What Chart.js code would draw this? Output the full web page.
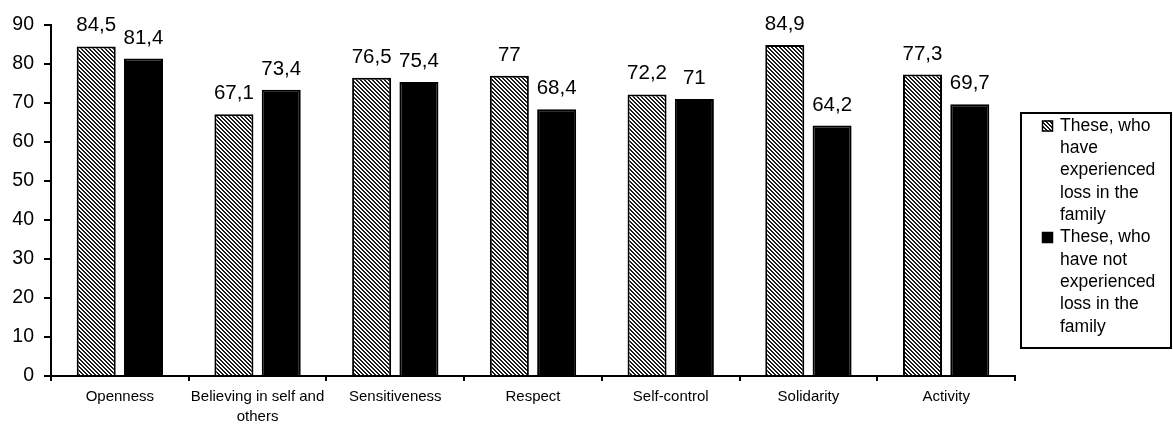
<!DOCTYPE html>
<html>
<head>
<meta charset="utf-8">
<script src="https://cdn.jsdelivr.net/npm/chart.js@4.4.1/dist/chart.umd.min.js"></script>
<style>
  html, body { margin: 0; padding: 0; background: #fff; }
  #wrap { width: 1173px; height: 424px; }
</style>
</head>
<body>
<div id="wrap"><canvas id="c" width="1173" height="424"></canvas></div>
<script>
// Categories (multi-line labels are given as arrays of lines)
const categories = [
  "Openness",
  ["Believing in self and", "others"],
  "Sensitiveness",
  "Respect",
  "Self-control",
  "Solidarity",
  "Activity"
];
const experiencedLoss    = [84.5, 67.1, 76.5, 77, 72.2, 84.9, 77.3];
const notExperiencedLoss = [81.4, 73.4, 75.4, 68.4, 71, 64.2, 69.7];
const seriesNames = [
  "These, who have experienced loss in the family",
  "These, who have not experienced loss in the family"
];
const yMin = 0, yMax = 90, yStep = 10;

const FONT = '"Liberation Sans", Arial, sans-serif';
Chart.defaults.font.family = FONT;
Chart.defaults.color = '#000';

const canvas = document.getElementById('c');
const ctx = canvas.getContext('2d');

// Diagonal "\\\" hatch fill
function makeHatch() {
  const t = document.createElement('canvas');
  t.width = 4; t.height = 4;
  const g = t.getContext('2d');
  g.fillStyle = '#fff';
  g.fillRect(0, 0, 4, 4);
  g.fillStyle = '#1a1a1a';
  for (let y = 0; y < 4; y++) {
    g.fillRect(y % 4, y, 1, 1);
    g.fillRect((y + 1) % 4, y, 1, 1);
  }
  return ctx.createPattern(t, 'repeat');
}
const hatch = makeHatch();

// Value labels above each bar, decimal comma
const valueLabels = {
  id: 'valueLabels',
  afterDatasetsDraw(chart) {
    const c = chart.ctx;
    c.save();
    c.font = '20.5px ' + FONT;
    c.fillStyle = '#000';
    c.textAlign = 'center';
    c.textBaseline = 'alphabetic';
    chart.data.datasets.forEach((ds, i) => {
      chart.getDatasetMeta(i).data.forEach((bar, j) => {
        c.fillText(String(ds.data[j]).replace('.', ','), bar.x, bar.y - 15);
      });
    });
    c.restore();
  }
};

// Boxed legend on the right with word-wrapped entries
const boxLegend = {
  id: 'boxLegend',
  afterDraw(chart) {
    const c = chart.ctx;
    const left = 1021, top = 113, width = 150, height = 235;
    const textX = 1060, maxW = 110, lineH = 22.3;
    c.save();
    c.lineWidth = 2;
    c.strokeStyle = '#000';
    c.strokeRect(left, top, width, height);
    c.font = '17.5px ' + FONT;
    c.fillStyle = '#000';
    c.textAlign = 'left';
    c.textBaseline = 'middle';
    let y = 126;
    chart.data.datasets.forEach((ds) => {
      // symbol
      c.fillStyle = ds.backgroundColor;
      c.fillRect(1042, y - 5.5, 11, 11);
      c.lineWidth = 1.5;
      c.strokeStyle = '#000';
      c.strokeRect(1042.5, y - 5, 10, 10);
      c.fillStyle = '#000';
      // wrapped text
      const words = ds.label.split(' ');
      let line = '';
      const lines = [];
      words.forEach(w => {
        const test = line ? line + ' ' + w : w;
        if (line && c.measureText(test).width > maxW) { lines.push(line); line = w; }
        else line = test;
      });
      if (line) lines.push(line);
      lines.forEach(l => { c.fillText(l, textX, y); y += lineH; });
    });
    c.restore();
  }
};

new Chart(ctx, {
  type: 'bar',
  data: {
    labels: categories,
    datasets: [
      {
        label: seriesNames[0],
        data: experiencedLoss,
        backgroundColor: hatch,
        borderColor: '#000',
        borderWidth: 2
      },
      {
        label: seriesNames[1],
        data: notExperiencedLoss,
        backgroundColor: '#000',
        borderColor: '#000',
        borderWidth: 2
      }
    ]
  },
  options: {
    responsive: false,
    animation: false,
    devicePixelRatio: 1,
    categoryPercentage: 0.687,
    barPercentage: 0.825,
    layout: { padding: { top: 25, right: 158, left: 0, bottom: 0 } },
    plugins: {
      legend: { display: false },
      tooltip: { enabled: false }
    },
    scales: {
      x: {
        grid: { drawOnChartArea: false, drawTicks: true, tickLength: 5, color: '#000', lineWidth: 2, offset: true },
        border: { color: '#000', width: 2 },
        ticks: { color: '#000', font: { size: 15, lineHeight: 1.333 }, padding: 6, maxRotation: 0, autoSkip: false },
        afterFit(s) { s.height = 48; }
      },
      y: {
        min: yMin,
        max: yMax,
        grid: { drawOnChartArea: false, drawTicks: true, tickLength: 7, color: '#000', lineWidth: 2 },
        border: { color: '#000', width: 2 },
        ticks: { stepSize: yStep, color: '#000', font: { size: 19.5 }, padding: 10 },
        afterFit(s) { s.width = 51; }
      }
    }
  },
  plugins: [valueLabels, boxLegend]
});
</script>
</body>
</html>
